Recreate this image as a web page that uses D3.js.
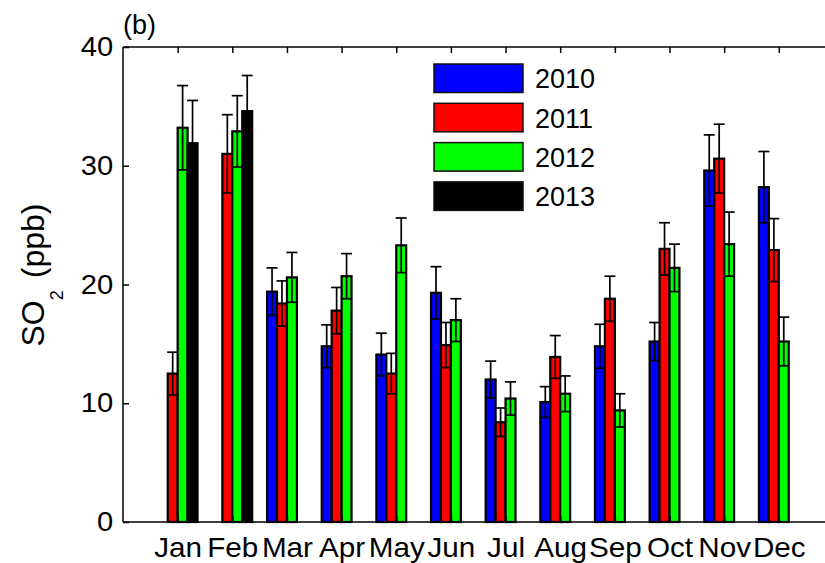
<!DOCTYPE html>
<html>
<head>
<meta charset="utf-8">
<script src="https://cdn.jsdelivr.net/npm/d3@7"></script>
<style>
  html, body { margin: 0; padding: 0; background: #fff; }
  svg { display: block; font-family: "Liberation Sans", Arial, sans-serif; }
</style>
</head>
<body>
<svg id="chart" width="825" height="563"></svg>
<script>
// ---- data ----
const months = ["Jan","Feb","Mar","Apr","May","Jun","Jul","Aug","Sep","Oct","Nov","Dec"];
const years = ["2010","2011","2012","2013"];
const colors = ["#0000ff","#ff0000","#00ff00","#000000"];
const v2010 = [null, null, 19.4, 14.8, 14.1, 19.3, 12.0, 10.1, 14.8, 15.2, 29.6, 28.2];
const v2011 = [12.5, 31.0, 18.4, 17.8, 12.5, 14.9, 8.4, 13.9, 18.8, 23.0, 30.6, 22.9];
const v2012 = [33.2, 32.9, 20.6, 20.7, 23.3, 17.0, 10.4, 10.8, 9.4, 21.4, 23.4, 15.2];
const v2013 = [31.9, 34.6, null, null, null, null, null, null, null, null, null, null];
const e2010 = [null, null, 2.0, 1.8, 1.8, 2.2, 1.55, 1.3, 1.85, 1.6, 3.0, 3.0];
const e2011 = [1.8, 3.3, 1.9, 1.95, 1.7, 1.9, 1.2, 1.8, 1.9, 2.2, 2.9, 2.65];
const e2012 = [3.55, 3.0, 2.1, 1.9, 2.3, 1.8, 1.4, 1.5, 1.4, 2.0, 2.7, 2.05];
const e2013 = [3.6, 3.0, null, null, null, null, null, null, null, null, null, null];
const yTicks = [0, 10, 20, 30, 40];
const yLabelMain = "SO";
const yLabelSub = "2";
const yLabelUnit = "(ppb)";
const panelLabel = "(b)";

const values = [v2010, v2011, v2012, v2013];
const errors = [e2010, e2011, e2012, e2013];

// ---- layout ----
const svg = d3.select("#chart");
const L = 123, T = 47, B = 522;
const x = d3.scaleLinear().domain([0, 13]).range([L, L + 13 * 54.65]);
const y = d3.scaleLinear().domain([0, 40]).range([B, T]);
const step = x(1) - x(0);
const groupW = step * 4 / 5.5;
const inner = d3.scaleBand().domain(years).range([-groupW / 2, groupW / 2]);

const rows = [];
months.forEach((m, i) => {
  years.forEach((yr, s) => {
    const v = values[s][i];
    if (v != null) rows.push({ m: i + 1, s, yr, v, e: errors[s][i] });
  });
});

// bars
svg.append("g").selectAll("rect").data(rows).join("rect")
  .attr("x", d => x(d.m) + inner(d.yr))
  .attr("y", d => y(d.v))
  .attr("width", inner.bandwidth())
  .attr("height", d => y(0) - y(d.v))
  .attr("fill", d => colors[d.s])
  .attr("stroke", "#000")
  .attr("stroke-width", 2.2);

// error bars
const eg = svg.append("g").attr("stroke", "#000").attr("stroke-width", 1.7).attr("fill", "none");
rows.filter(d => d.e != null).forEach(d => {
  const cx = x(d.m) + inner(d.yr) + inner.bandwidth() / 2;
  const cw = 5.5;
  eg.append("line").attr("x1", cx).attr("x2", cx).attr("y1", y(d.v - d.e)).attr("y2", y(d.v + d.e));
  eg.append("line").attr("x1", cx - cw).attr("x2", cx + cw).attr("y1", y(d.v + d.e)).attr("y2", y(d.v + d.e));
  eg.append("line").attr("x1", cx - cw).attr("x2", cx + cw).attr("y1", y(d.v - d.e)).attr("y2", y(d.v - d.e));
});

// axes
const fontSize = 27;
const yAxis = d3.axisLeft(y).tickValues(yTicks).tickSizeInner(-6).tickSizeOuter(0).tickPadding(9);
const gy = svg.append("g").attr("transform", `translate(${L},0)`).call(yAxis);
const xAxis = d3.axisBottom(x).tickValues(d3.range(1, 13)).tickFormat(d => months[d - 1])
  .tickSizeInner(-6).tickSizeOuter(0).tickPadding(15);
const gx = svg.append("g").attr("transform", `translate(0,${B})`).call(xAxis);
const xTop = d3.axisTop(x).tickValues(d3.range(1, 13)).tickFormat("").tickSizeInner(-6).tickSizeOuter(0);
const gt = svg.append("g").attr("transform", `translate(0,${T})`).call(xTop);
[gy, gx, gt].forEach(g => {
  g.select(".domain").remove();
  g.selectAll("line").attr("stroke", "#000").attr("stroke-width", 1.5);
  g.selectAll("text").attr("font-size", fontSize).attr("fill", "#000")
    .attr("font-family", "'Liberation Sans', Arial, sans-serif");
});
gx.selectAll("text").attr("font-size", 28).attr("transform", "scale(1.06,1)");
gy.selectAll("text").attr("transform", "scale(1.08,1)");

// frame
const fr = svg.append("g").attr("stroke", "#000").attr("stroke-width", 1.5);
fr.append("line").attr("x1", L).attr("x2", L).attr("y1", T).attr("y2", B);
fr.append("line").attr("x1", L).attr("x2", x(13)).attr("y1", T).attr("y2", T);
fr.append("line").attr("x1", L).attr("x2", x(13)).attr("y1", B).attr("y2", B);

// y label
const yl = svg.append("text")
  .attr("transform", `translate(44,275) rotate(-90)`)
  .attr("text-anchor", "middle")
  .attr("font-size", 32)
  .attr("fill", "#000");
yl.append("tspan").text(yLabelMain);
yl.append("tspan").attr("font-size", 18).attr("dy", 19).text(yLabelSub);
yl.append("tspan").attr("dy", -19).attr("dx", 12).text(yLabelUnit);

// panel label
svg.append("text").attr("x", 123).attr("y", 34).attr("font-size", 27).attr("fill", "#000").text(panelLabel);

// legend
const lg = svg.append("g");
const ly = d3.scaleBand().domain(years).range([64, 64 + 4 * 39.3]);
years.forEach((yr, s) => {
  lg.append("rect").attr("x", 434).attr("y", ly(yr)).attr("width", 89).attr("height", 28.5)
    .attr("fill", colors[s]).attr("stroke", "#111").attr("stroke-width", 1.5);
  lg.append("text").attr("x", 535).attr("y", ly(yr) + 14.5).attr("dy", "0.36em")
    .attr("font-size", 27).attr("fill", "#000").text(yr);
});
</script>
</body>
</html>
